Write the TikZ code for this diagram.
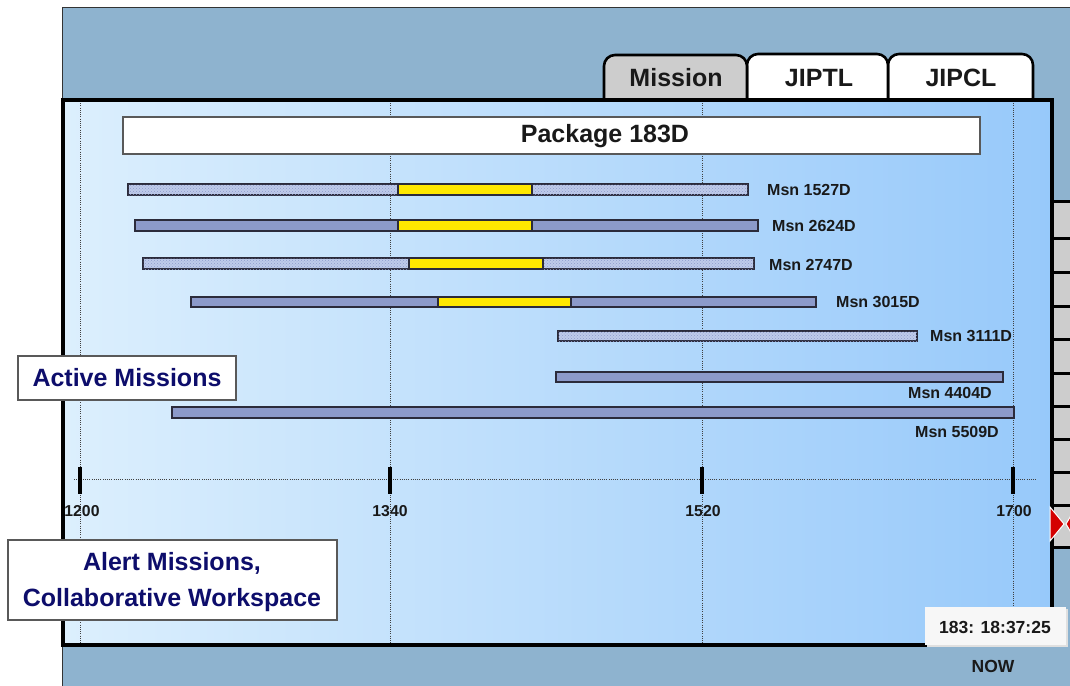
\documentclass[tikz,border=0pt]{standalone}
\usepackage{fontspec}
\setmainfont{Liberation Sans}
\usetikzlibrary{patterns}
\definecolor{steel}{HTML}{8EB3CF}
\definecolor{panelL}{HTML}{DCEFFD}
\definecolor{panelR}{HTML}{97C9FA}
\definecolor{barfill}{HTML}{8C9ACA}
\definecolor{barline}{HTML}{2B2B3B}
\definecolor{dotbase}{HTML}{BFCBEA}
\definecolor{dotcol}{HTML}{8E9CCC}
\definecolor{msnyellow}{HTML}{FFE800}
\definecolor{navy}{HTML}{0D0D6B}
\definecolor{tabgray}{HTML}{CDCDCD}
\definecolor{btnred}{HTML}{D40000}
\tikzset{
  solidbar/.style={draw=barline, line width=1.3pt, fill=barfill},
  dotbar/.style={draw=barline, line width=1.3pt, fill=dotbase, postaction={pattern=crosshatch dots, pattern color=dotcol}},
  yelbar/.style={draw=barline, line width=1.3pt, fill=msnyellow},
  grid/.style={draw=black!75, line width=0.8pt, dash pattern=on 0.8pt off 1.4pt},
  tick/.style={fill=black},
  msnlabel/.style={font=\fontsize{16}{19}\selectfont\bfseries, inner sep=0pt, text=black!90},
  ticklabel/.style={font=\fontsize{15.8}{18}\selectfont\bfseries, inner sep=0pt, text=black!90},
  tabbox/.style={draw=black, line width=2.6pt, rounded corners=11pt},
  tabtext/.style={font=\fontsize{25}{29}\selectfont\bfseries, inner sep=0pt, text=black!90},
  whitebox/.style={draw=black!65, line width=1.2pt, fill=white},
  navytext/.style={font=\fontsize{25}{36}\selectfont\bfseries, text=navy, align=center, inner sep=0pt},
}
\begin{document}
\begin{tikzpicture}[x=1pt, y=-1pt]
\useasboundingbox (0,0) rectangle (1070,685);
\fill[white] (0,0) rectangle (1070,685);
% outer steel frame
\fill[steel] (62,8) rectangle (1075,690);
\draw[black!80, line width=1pt] (62,690) -- (62,8) -- (1075,8);
% tabs
\draw[tabbox, fill=white] (888,102) -- (888,54) -- (1033,54) -- (1033,102);
\draw[tabbox, fill=white] (747,102) -- (747,54) -- (888,54) -- (888,102);
\draw[tabbox, fill=tabgray] (604,102) -- (604,55) -- (747,55) -- (747,102);
\node[tabtext] (tabmission) at (676,78) {Mission};
\node[tabtext] (tabjiptl) at (819,78) {JIPTL};
\node[tabtext] (tabjipcl) at (961,78) {JIPCL};
% main panel
\shade[left color=panelL, right color=panelR] (63,100) rectangle (1052,645);
% right button column
\fill[tabgray] (1053,201) rectangle (1075,547);
\foreach \yy in {201,238,272,306,339,373,406,439,472,505,547}
  \draw[black, line width=3pt] (1052,\yy) -- (1075,\yy);
% grid lines
\foreach \xx in {80,390,702,1013}
  \draw[grid] (\xx,101) -- (\xx,644);
\draw[grid] (74,479) -- (1037,479);
% panel border
\draw[black, line width=3.5pt] (63,645) -- (63,100) -- (1052,100) -- (1052,645) -- cycle;
% red button
\fill[btnred, draw=white, line width=1pt] (1050,507) -- (1064,524) -- (1050,541) -- cycle;
\fill[btnred, draw=white, line width=1pt] (1076,507) -- (1066,524) -- (1076,541) -- cycle;
% ticks
\foreach \xx in {80,390,702,1013}
  \fill[tick] (\xx-2,467) rectangle (\xx+2,494);
\node[ticklabel] (t1200) at (82,511) {1200};
\node[ticklabel] (t1340) at (390,511) {1340};
\node[ticklabel] (t1520) at (703,511) {1520};
\node[ticklabel] (t1700) at (1014,511) {1700};
% package box
\draw[whitebox] (123,117) rectangle (980,154);
\node[tabtext] (pkg) at (605,136) {Package 183D};
% bars
\draw[dotbar] (128,184) rectangle (748,195);
\draw[yelbar] (398,184) rectangle (532,195);
\node[msnlabel, anchor=west] (m1527) at (767,190) {Msn 1527D};
\draw[solidbar] (135,220) rectangle (758,231);
\draw[yelbar] (398,220) rectangle (532,231);
\node[msnlabel, anchor=west] (m2624) at (772,226) {Msn 2624D};
\draw[dotbar] (143,258) rectangle (754,269);
\draw[yelbar] (409,258) rectangle (543,269);
\node[msnlabel, anchor=west] (m2747) at (769,265) {Msn 2747D};
\draw[solidbar] (191,297) rectangle (816,307);
\draw[yelbar] (438,297) rectangle (571,307);
\node[msnlabel, anchor=west] (m3015) at (836,302) {Msn 3015D};
\draw[dotbar] (558,331) rectangle (917,341);
\node[msnlabel, anchor=west] (m3111) at (930,336) {Msn 3111D};
\draw[solidbar] (556,372) rectangle (1003,382);
\node[msnlabel] (m4404) at (950,393) {Msn 4404D};
\draw[solidbar] (172,407) rectangle (1014,418);
\node[msnlabel] (m5509) at (957,432) {Msn 5509D};
% side labels
\draw[whitebox] (18,356) rectangle (236,400);
\node[navytext] (active) at (127,378) {Active Missions};
\draw[whitebox] (8,540) rectangle (337,620);
\node[navytext] (alert) at (172,582) {Alert Missions,\\Collaborative Workspace};
% clock
\fill[black!12] (927,609) rectangle (1068,647);
\fill[white!97!black] (925,607) rectangle (1066,645);
\node[font=\fontsize{17.5}{20}\selectfont\bfseries, inner sep=0pt, text=black!90] (clock) at (995,627) {183: 18:37:25};
\node[font=\fontsize{17.5}{20}\selectfont\bfseries, inner sep=0pt, text=black!90] (now) at (993,666) {NOW};
\end{tikzpicture}
\end{document}
